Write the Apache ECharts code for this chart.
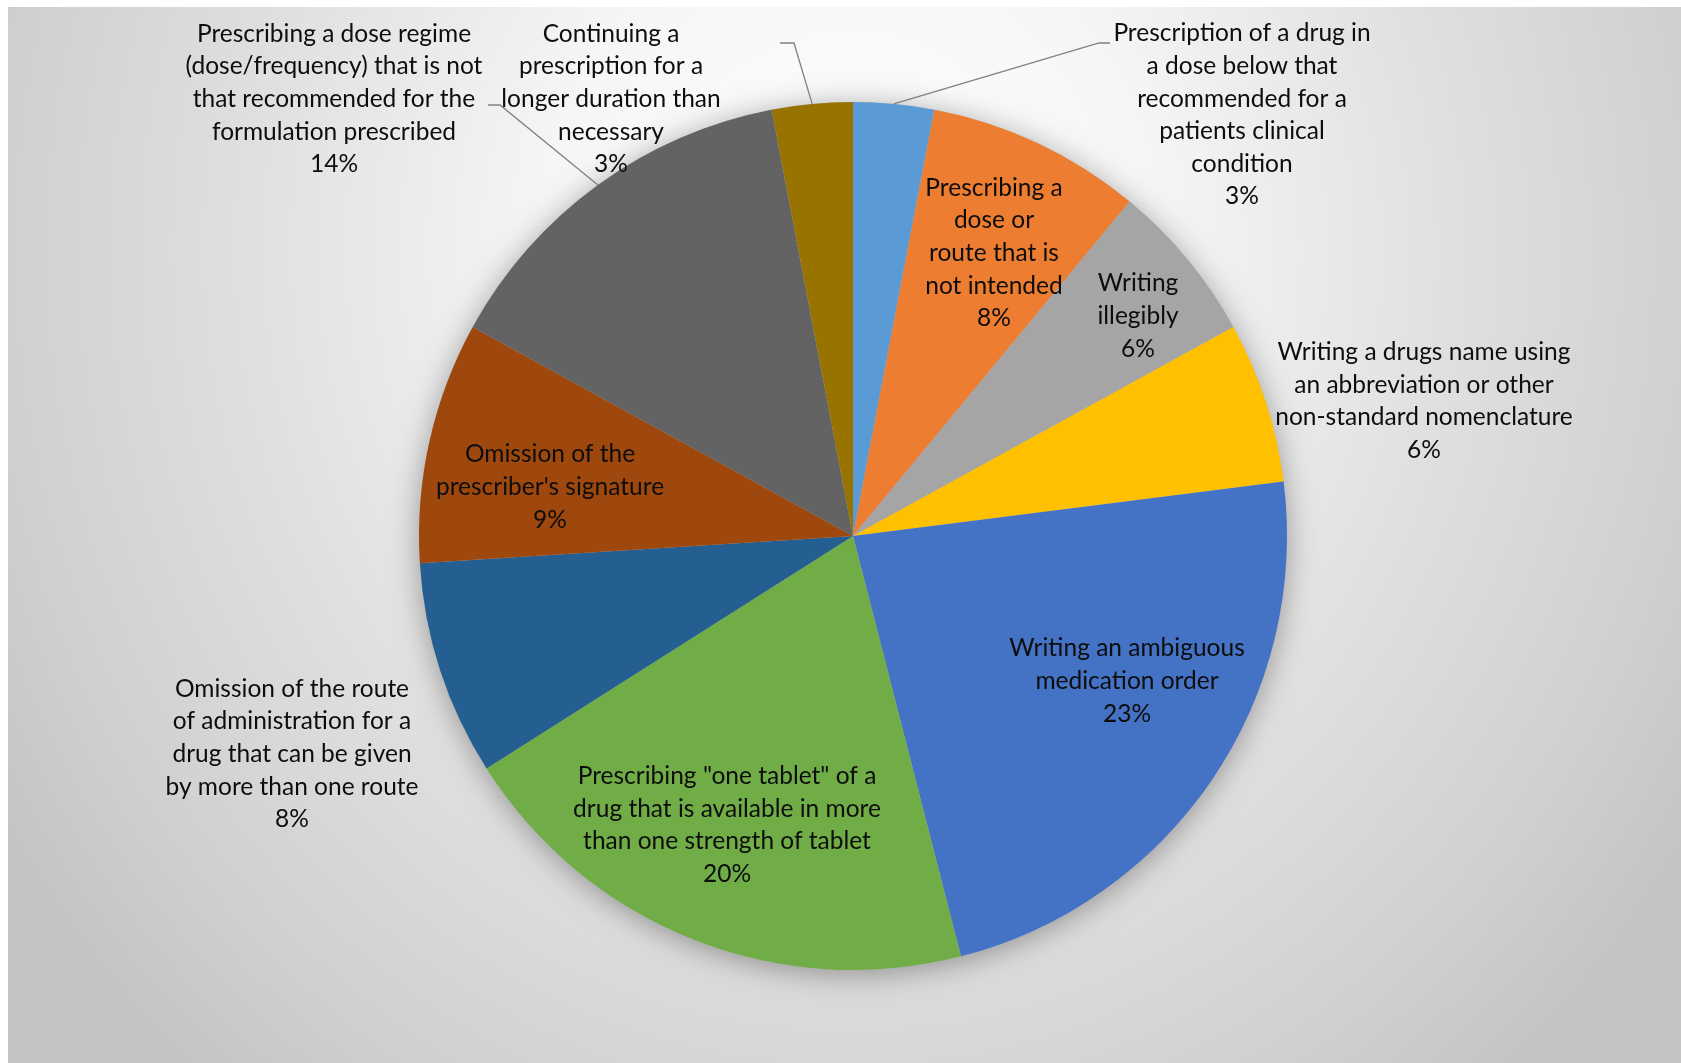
<!DOCTYPE html>
<html>
<head>
<meta charset="utf-8">
<title>Prescribing errors</title>
<script src="https://cdn.jsdelivr.net/npm/echarts@6/dist/echarts.min.js"></script>
<style>
  html, body { margin: 0; padding: 0; background: #fff; }
  #main { width: 1681px; height: 1063px; }
</style>
</head>
<body>
<div id="main"></div>
<script>
// error types, clockwise from 12 o'clock
var categories = [
  'Prescription of a drug in\na dose below that\nrecommended for a\npatients clinical\ncondition',
  'Prescribing a\ndose or\nroute that is\nnot intended',
  'Writing\nillegibly',
  'Writing a drugs name using\nan abbreviation or other\nnon-standard nomenclature',
  'Writing an ambiguous\nmedication order',
  'Prescribing "one tablet" of a\ndrug that is available in more\nthan one strength of tablet',
  'Omission of the route\nof administration for a\ndrug that can be given\nby more than one route',
  'Omission of the\nprescriber\'s signature',
  'Prescribing a dose regime\n(dose/frequency) that is not\nthat recommended for the\nformulation prescribed',
  'Continuing a\nprescription for a\nlonger duration than\nnecessary'
];
var percents = [3, 8, 6, 6, 23, 20, 8, 9, 14, 3];

var colors = ['#5B9BD5', '#ED7D31', '#A5A5A5', '#FFC000', '#4472C4',
              '#70AD47', '#255E91', '#9E480E', '#636363', '#997300'];

// label placement (centre of text block), "inside" labels sit on the slice
var labelSpots = {
  0: { x: 1242, y: 115, elbow: [1099, 43], end: 1110 },
  1: { x: 994, y: 253, inside: true },
  2: { x: 1138, y: 316, inside: true },
  3: { x: 1424, y: 401 },
  4: { x: 1127, y: 681, inside: true },
  5: { x: 727, y: 825, inside: true },
  6: { x: 292, y: 754 },
  7: { x: 550, y: 487, inside: true },
  8: { x: 334, y: 99, elbow: [500, 105], end: 488 },
  9: { x: 611, y: 99, elbow: [794, 43], end: 780 }
};

var chart = echarts.init(document.getElementById('main'));

var pieData = [];
for (var i = 0; i < categories.length; i++) {
  var spot = labelSpots[i];
  pieData.push({
    name: categories[i],
    value: percents[i],
    itemStyle: { color: colors[i] },
    label: { position: spot.inside ? 'inside' : 'outside' },
    labelLine: { show: !!spot.elbow }
  });
}

// elliptical light-to-grey backdrop (drawn in a y-scaled space)
var bgScaleY = 1.1;
var option = {
  animation: false,
  graphic: [{
    type: 'rect',
    z: -10,
    silent: true,
    x: 8,
    y: 7,
    scaleY: bgScaleY,
    shape: { x: 0, y: 0, width: 1673, height: 1056 / bgScaleY },
    style: {
      fill: new echarts.graphic.RadialGradient(842, (250 - 7) / bgScaleY, 1000, [
        { offset: 0, color: '#ffffff' },
        { offset: 0.3, color: '#f6f6f6' },
        { offset: 0.6, color: '#e0e0e0' },
        { offset: 0.85, color: '#d0d0d0' },
        { offset: 1, color: '#c4c4c4' }
      ], true)
    }
  }],
  series: [
    {
      // soft shadow under the pie
      type: 'pie',
      silent: true,
      z: 1,
      center: [853, 536],
      radius: 434,
      label: { show: false },
      labelLine: { show: false },
      itemStyle: {
        color: '#bbbbbb',
        borderWidth: 0,
        shadowBlur: 30,
        shadowOffsetY: 4,
        shadowColor: 'rgba(0,0,0,0.35)'
      },
      data: [{ value: 1, name: '' }]
    },
    {
      type: 'pie',
      z: 2,
      center: [853, 536],
      radius: 434,
      startAngle: 90,
      clockwise: true,
      avoidLabelOverlap: false,
      emphasis: { disabled: true },
      itemStyle: { borderWidth: 0 },
      label: {
        show: true,
        color: '#0d0d0d',
        fontFamily: 'Lato',
        fontSize: 24.5,
        lineHeight: 32.6,
        align: 'center',
        formatter: function (p) {
          return p.name + '\n' + p.value + '%';
        }
      },
      labelLine: {
        lineStyle: { color: '#808080', width: 1.3 }
      },
      labelLayout: function (p) {
        var spot = labelSpots[p.dataIndex];
        var out = { x: spot.x, y: spot.y, align: 'center', verticalAlign: 'middle' };
        if (spot.elbow && p.labelLinePoints) {
          out.labelLinePoints = [
            p.labelLinePoints[0],
            [spot.elbow[0], spot.elbow[1]],
            [spot.end, spot.elbow[1]]
          ];
        }
        return out;
      },
      data: pieData
    }
  ]
};

chart.setOption(option);
</script>
</body>
</html>
